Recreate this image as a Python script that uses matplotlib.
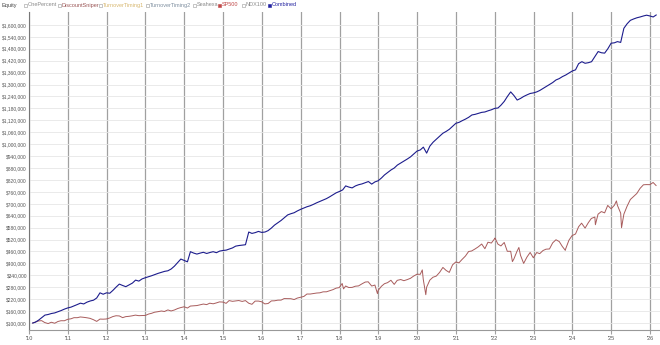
import matplotlib
matplotlib.use("Agg")
import matplotlib.pyplot as plt
from matplotlib.patches import Rectangle
import pandas as pd

# equity curves, values in thousands of dollars
sp500_dates = [
    "2010-02-05", "2010-02-26", "2010-03-31", "2010-04-30", "2010-05-28", "2010-06-30",
    "2010-07-30", "2010-08-31", "2010-09-30", "2010-10-29", "2010-11-30", "2010-12-31",
    "2011-01-31", "2011-02-28", "2011-03-31", "2011-04-29", "2011-05-31", "2011-06-30",
    "2011-07-29", "2011-08-31", "2011-09-30", "2011-10-31", "2011-11-30", "2011-12-30",
    "2012-01-31", "2012-02-29", "2012-03-30", "2012-04-30", "2012-05-31", "2012-06-29",
    "2012-07-31", "2012-08-31", "2012-09-28", "2012-10-31", "2012-11-30", "2012-12-31",
    "2013-01-31", "2013-02-28", "2013-03-28", "2013-04-30", "2013-05-31", "2013-06-28",
    "2013-07-31", "2013-08-30", "2013-09-30", "2013-10-31", "2013-11-29", "2013-12-31",
    "2014-01-31", "2014-02-28", "2014-03-31", "2014-04-30", "2014-05-30", "2014-06-30",
    "2014-07-31", "2014-08-29", "2014-09-30", "2014-10-31", "2014-11-28", "2014-12-31",
    "2015-01-30", "2015-02-27", "2015-03-31", "2015-04-30", "2015-05-29", "2015-06-30",
    "2015-07-31", "2015-08-31", "2015-09-30", "2015-10-30", "2015-11-30", "2015-12-31",
    "2016-01-29", "2016-02-29", "2016-03-31", "2016-04-29", "2016-05-31", "2016-06-30",
    "2016-07-29", "2016-08-31", "2016-09-30", "2016-10-31", "2016-11-30", "2016-12-30",
    "2017-01-31", "2017-02-28", "2017-03-31", "2017-04-28", "2017-05-31", "2017-06-30",
    "2017-07-31", "2017-08-31", "2017-09-29", "2017-10-31", "2017-11-30", "2017-12-29",
    "2018-01-26", "2018-02-08", "2018-02-28", "2018-03-29", "2018-04-30", "2018-05-31",
    "2018-06-29", "2018-07-31", "2018-08-31", "2018-09-28", "2018-10-31", "2018-11-30",
    "2018-12-24", "2018-12-31", "2019-01-31", "2019-02-28", "2019-03-29", "2019-04-30",
    "2019-05-31", "2019-06-28", "2019-07-31", "2019-08-30", "2019-09-30", "2019-10-31",
    "2019-11-29", "2019-12-31", "2020-01-31", "2020-02-19", "2020-02-28", "2020-03-23",
    "2020-03-31", "2020-04-30", "2020-05-29", "2020-06-30", "2020-07-31", "2020-08-31",
    "2020-09-30", "2020-10-30", "2020-11-30", "2020-12-31", "2021-01-29", "2021-02-26",
    "2021-03-31", "2021-04-30", "2021-05-28", "2021-06-30", "2021-07-30", "2021-08-31",
    "2021-09-30", "2021-10-29", "2021-11-30", "2021-12-31", "2022-01-03", "2022-01-31",
    "2022-02-28", "2022-03-31", "2022-04-29", "2022-05-31", "2022-06-16", "2022-06-30",
    "2022-07-29", "2022-08-16", "2022-08-31", "2022-09-30", "2022-10-31", "2022-11-30",
    "2022-12-30", "2023-01-31", "2023-02-28", "2023-03-31", "2023-04-28", "2023-05-31",
    "2023-06-30", "2023-07-31", "2023-08-31", "2023-09-29", "2023-10-27", "2023-10-31",
    "2023-11-30", "2023-12-29", "2024-01-31", "2024-02-29", "2024-03-28", "2024-04-30",
    "2024-05-31", "2024-06-28", "2024-07-31", "2024-08-05", "2024-08-30", "2024-09-30",
    "2024-10-31", "2024-11-29", "2024-12-31", "2025-01-31", "2025-02-19", "2025-02-28",
    "2025-03-31", "2025-04-08", "2025-04-30", "2025-05-30", "2025-06-30", "2025-07-31",
    "2025-08-29", "2025-09-30", "2025-10-31", "2025-11-28", "2025-12-31", "2026-01-30",
    "2026-02-27",
]
sp500_values = [
    100.0, 104.2, 110.4, 112.1, 102.8, 97.3,
    104.0, 99.0, 107.7, 111.7, 111.5, 118.8,
    121.4, 127.0, 126.9, 130.6, 128.8, 126.5,
    123.7, 116.7, 108.3, 120.0, 119.4, 120.4,
    125.6, 132.6, 136.7, 135.7, 127.2, 132.2,
    133.9, 136.6, 139.9, 137.1, 137.5, 138.4,
    145.4, 149.1, 154.5, 157.3, 160.6, 158.1,
    166.0, 160.8, 165.6, 173.0, 177.8, 181.9,
    175.5, 185.5, 186.8, 188.0, 192.0, 195.6,
    192.7, 199.9, 196.8, 201.4, 206.4, 205.5,
    199.1, 213.0, 209.3, 211.1, 213.3, 208.8,
    212.9, 199.6, 194.3, 210.4, 210.5, 206.9,
    196.3, 198.3, 211.4, 211.9, 215.2, 215.4,
    223.1, 222.8, 222.5, 218.2, 225.7, 229.8,
    233.9, 246.0, 245.9, 248.1, 251.0, 252.1,
    257.0, 257.2, 262.1, 268.0, 275.6, 278.3,
    299.0, 272.0, 286.4, 278.7, 279.4, 285.4,
    286.8, 297.1, 306.2, 307.5, 286.2, 291.2,
    248.1, 264.5, 285.3, 297.9, 303.2, 315.2,
    294.5, 314.8, 318.9, 313.1, 318.5, 325.1,
    336.1, 345.7, 345.2, 367.4, 320.5, 242.7,
    280.5, 316.0, 330.3, 336.4, 354.9, 379.8,
    364.9, 354.8, 393.0, 407.5, 403.0, 419.3,
    437.1, 460.0, 462.5, 472.9, 483.5, 497.6,
    474.0, 506.6, 502.5, 524.4, 527.8, 496.9,
    488.0, 505.4, 461.0, 461.0, 409.1, 422.3,
    460.7, 480.3, 441.2, 400.1, 432.0, 455.2,
    428.4, 454.8, 449.1, 464.8, 471.6, 472.8,
    503.4, 519.1, 509.9, 485.1, 465.7, 474.4,
    516.7, 539.6, 548.2, 584.5, 602.6, 577.6,
    605.4, 626.3, 633.4, 594.8, 647.8, 660.9,
    654.4, 691.9, 674.7, 692.9, 714.6, 692.6,
    652.7, 579.6, 647.7, 687.6, 721.7, 737.3,
    751.4, 777.9, 795.6, 796.6, 796.2, 807.2,
    792.0,
]

combined_values = [
    100,
    104, 114, 127, 140, 143, 148, 151, 157, 163, 170, 176,
    180, 186, 193, 200, 196, 205, 211, 215, 226, 252, 245, 252,
    250, 264, 281, 296, 289, 283, 292, 301, 316, 311, 322, 328,
    333, 338, 344, 350, 355, 360, 363, 372, 386, 404, 422, 415,
    408, 459, 452, 447, 452, 456, 450, 455, 459, 454, 462, 465,
    467, 472, 478, 487, 490, 492, 494, 558, 551, 555, 561, 556,
    558, 565, 578, 593, 605, 616, 630, 644, 650, 655, 664, 672,
    679, 685, 690, 697, 705, 712, 719, 726, 735, 745, 755, 762,
    770, 790, 784, 780, 790, 796, 800, 806, 812, 799, 810, 816,
    830, 845, 858, 870, 880, 895, 905, 915, 925, 936, 950, 965,
    971, 985, 955, 990, 1010, 1025, 1040, 1055, 1064, 1075, 1090, 1105,
    1110, 1118, 1126, 1135, 1147, 1150, 1155, 1160, 1162, 1168, 1173, 1180,
    1182, 1196, 1215, 1240, 1263, 1245, 1222, 1230, 1240, 1248, 1255, 1258,
    1263, 1270, 1280, 1290, 1300, 1310, 1323, 1330, 1340, 1348, 1358, 1368,
    1374, 1405, 1415, 1407, 1410, 1415, 1440, 1466, 1460, 1458, 1480, 1508,
    1510, 1516, 1512, 1583, 1606, 1623, 1630, 1636, 1640, 1645, 1649, 1645,
    1640, 1650,
]
combined_dates = [pd.Timestamp("2010-02-05")] + list(
    pd.date_range("2010-02-28", "2026-02-28", freq="ME"))

legend_names = ["OnePercent", "DiscountSniper", "TurnoverTiming1", "TurnoverTiming2",
                "Seahexa", "SP500", "NDX100", "Combined"]
legend_colors = ["#8a8a8a", "#9a5555", "#d8b870", "#7f8fa0",
                 "#8a8a8a", "#c04848", "#8a8a8a", "#2222a0"]
legend_checked = [False, False, False, False, False, True, False, True]

y_ticks = list(range(100000, 1600001, 60000))
year_ticks = list(range(2010, 2027))

fig = plt.figure(figsize=(6.6, 3.45), dpi=100)
ax = fig.add_axes([29 / 660, 15 / 345, 631 / 660, 318 / 345])

ax.plot(pd.to_datetime(sp500_dates), [v * 1000 for v in sp500_values],
        color="#a85c5c", lw=0.7)
ax.plot(combined_dates, [v * 1000 for v in combined_values],
        color="#1c1c8c", lw=0.8)

ax.set_xlim(pd.Timestamp("2010-01-01"), pd.Timestamp("2026-04-05"))
ax.set_ylim(65000, 1665000)

ax.set_yticks(y_ticks)
ax.set_yticklabels(["${:,}".format(v) for v in y_ticks])
ax.set_xticks([pd.Timestamp(f"{y}-01-01") for y in year_ticks])
ax.set_xticklabels(["'" + str(y)[2:] for y in year_ticks])

ax.grid(axis="y", color="#e6e6e6", lw=0.6)
ax.grid(axis="x", color="#a0a0a0", lw=0.9)
ax.set_axisbelow(True)

for s in ["top", "right"]:
    ax.spines[s].set_visible(False)
ax.spines["left"].set_color("#777777")
ax.spines["bottom"].set_color("#999999")
ax.spines["left"].set_linewidth(0.8)
ax.spines["bottom"].set_linewidth(0.8)

ax.tick_params(axis="y", length=0, pad=1.5, labelsize=3.5, labelcolor="#555555")
ax.tick_params(axis="x", length=3, color="#a0a0a0", pad=1, labelsize=4,
               labelcolor="#555555")
for lab in ax.get_yticklabels() + ax.get_xticklabels():
    lab.set_fontfamily("Liberation Sans")

# legend row at the top
fig.text(2 / 660, 1 - 5 / 345, "Equity", fontsize=4, color="#444444",
         family="Liberation Sans", va="center", ha="left")
legend_x = [24, 58, 99, 146, 193, 218, 242, 268]
for x, name, col, checked in zip(legend_x, legend_names, legend_colors, legend_checked):
    fig.patches.append(Rectangle((x / 660, 1 - 6.5 / 345), 3 / 660, 3 / 345,
                                 transform=fig.transFigure, lw=0.4,
                                 edgecolor=col if checked else "#999999",
                                 facecolor=col if checked else "white"))
    fig.text((x + 4) / 660, 1 - 5 / 345, name, fontsize=4, color=col,
             family="Liberation Sans", va="center", ha="left")

fig.savefig("out.png", dpi=100)
